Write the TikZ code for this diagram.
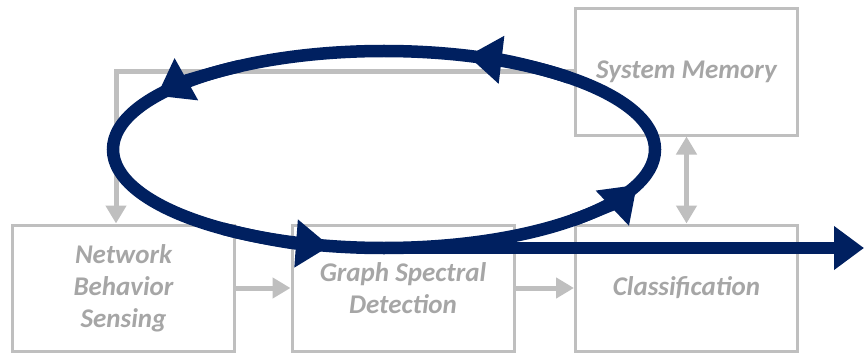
\documentclass[tikz,border=0pt]{standalone}
\usepackage{fontspec}
\newfontfamily\lblfont{Carlito}
\usetikzlibrary{arrows.meta}

\definecolor{navy}{HTML}{002060}
\definecolor{boxgray}{HTML}{BFBFBF}
\definecolor{textgray}{HTML}{A6A6A6}

\tikzset{
  stagebox/.style={draw=boxgray, line width=3pt, minimum width=222pt,
    minimum height=126pt, inner sep=0pt, align=center, text=textgray,
    font=\lblfont\bfseries\itshape\fontsize{27}{32}\selectfont},
  flowline/.style={draw=boxgray, line width=5pt,
    -{Triangle[length=18pt,width=20pt]}},
  bothline/.style={draw=boxgray, line width=5pt,
    {Triangle[length=18pt,width=20pt]}-{Triangle[length=18pt,width=20pt]}},
  loopline/.style={draw=navy, line width=12.5pt},
  looptip/.style={draw=navy, line width=12.5pt,
    -{Triangle[length=34pt,width=46pt]}},
  outline/.style={draw=navy, line width=12.5pt,
    -{Triangle[length=30pt,width=42pt]}},
}

\begin{document}
\begin{tikzpicture}[x=1pt, y=1pt]
  \useasboundingbox (0,0) rectangle (864,354);

  % processing stages
  \node[stagebox] (sense)    at (123.5, 66)  {Network\\Behavior\\Sensing};
  \node[stagebox] (graph)    at (403, 66)    {Graph Spectral\\Detection};
  \node[stagebox] (classify) at (686.5, 66)  {Classification};
  \node[stagebox] (memory)   at (686.5, 282) {System Memory};

  % data flow between stages
  \draw[flowline] (sense.east) -- (graph.west);
  \draw[flowline] (graph.east) -- (classify.west);
  \draw[bothline] (memory.south) -- (classify.north);
  \coordinate (fbx) at (116, 0);
  \draw[flowline] (memory.west) -| (fbx |- sense.north);

  % adaptive loop
  \coordinate (ctr) at (384, 204.5);
  \draw[loopline] (ctr) ellipse [x radius=271, y radius=98.5];
  \foreach \t in {72, 147, 258.5, 339} {
    \draw[looptip] (ctr) ++(\t-25:271 and 98.5)
      arc[start angle=\t-25, end angle=\t, x radius=271, y radius=98.5];
  }

  % output
  \coordinate (loopbottom) at (384, 106);
  \coordinate (out) at (864, 106);
  \draw[outline] (loopbottom) -- (out);
\end{tikzpicture}
\end{document}
